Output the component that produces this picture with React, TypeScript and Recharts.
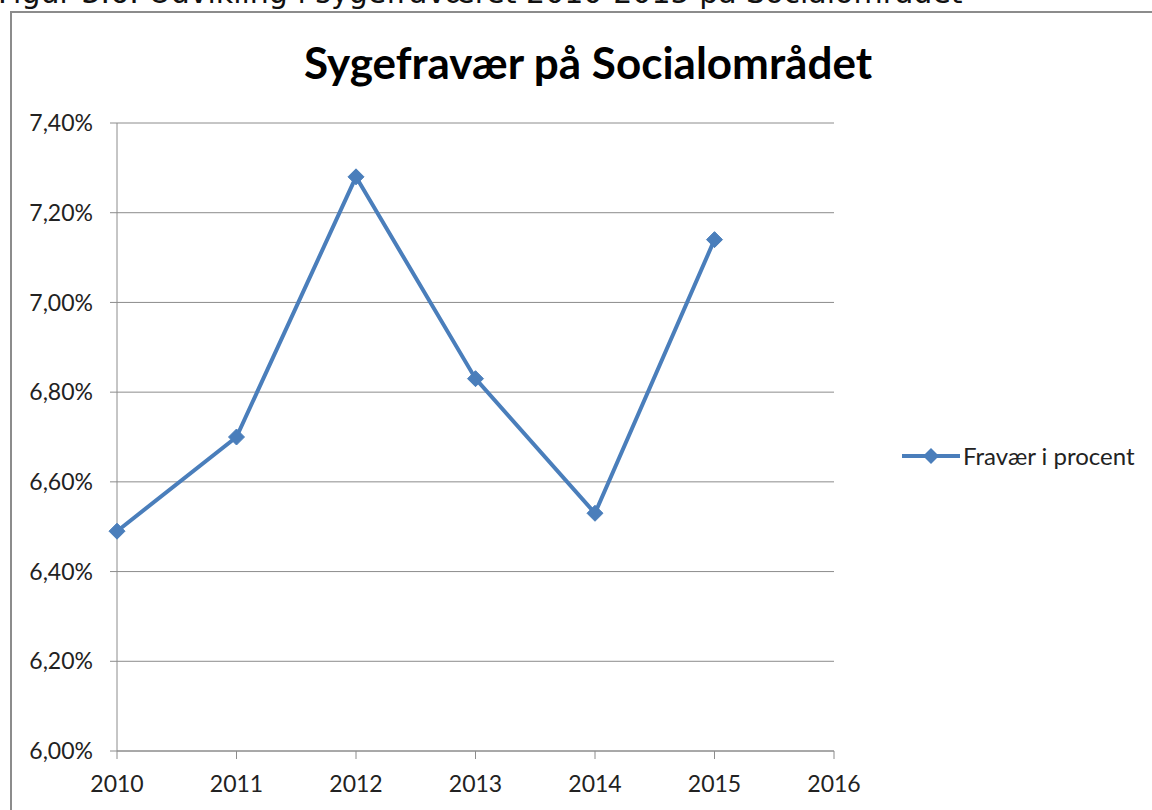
import { CartesianGrid, Line, LineChart, XAxis, YAxis } from "recharts";

const years = [2010, 2011, 2012, 2013, 2014, 2015];
const fravaer = [6.49, 6.7, 7.28, 6.83, 6.53, 7.14];
const yTicks = [6.0, 6.2, 6.4, 6.6, 6.8, 7.0, 7.2, 7.4];
const xTicks = [2010, 2011, 2012, 2013, 2014, 2015, 2016];
const seriesName = "Fravær i procent";

const data = years.map((year, i) => ({ year, value: fravaer[i] }));

const BLUE = "#4A7EBB";
const FONT = "Lato, 'Open Sans', sans-serif";

const Diamond = (props: any) => {
  const { cx, cy } = props;
  if (cx == null || cy == null) return null;
  const r = 8;
  return (
    <polygon
      points={`${cx},${cy - r} ${cx + r},${cy} ${cx},${cy + r} ${cx - r},${cy}`}
      fill={BLUE}
      stroke={BLUE}
      strokeWidth={1}
    />
  );
};

export default function App() {
  return (
    <div
      style={{
        position: "absolute",
        left: 0,
        top: 0,
        width: 1152,
        height: 810,
        overflow: "hidden",
        background: "#fff",
      }}
    >
      {/* caption above the chart box, cut off at the top as in the source */}
      <div
        style={{
          position: "absolute",
          left: -2,
          top: -25,
          fontFamily: "'DejaVu Sans', sans-serif",
          fontSize: 30,
          whiteSpace: "nowrap",
          color: "#111",
        }}
      >
        Figur 3.6: Udvikling i sygefraværet 2010-2015 på Socialområdet
      </div>
      <div
        style={{
          position: "absolute",
          left: 10,
          top: 11,
          width: 1160,
          height: 820,
          border: "2px solid #8c8c8c",
        }}
      />
      <div
        style={{
          position: "absolute",
          left: 0,
          top: 36,
          width: 1176,
          textAlign: "center",
          fontFamily: FONT,
          fontWeight: 700,
          fontSize: 44,
          color: "#000",
        }}
      >
        Sygefravær på Socialområdet
      </div>
      <div style={{ position: "absolute", left: 0, top: 0 }}>
        <LineChart
          width={1152}
          height={810}
          data={data}
          margin={{ top: 123, right: 318, bottom: 29, left: 0 }}
        >
          <CartesianGrid horizontal vertical={false} stroke="#8c8c8c" strokeWidth={1} />
          <XAxis
            dataKey="year"
            type="number"
            domain={[2010, 2016]}
            ticks={xTicks}
            interval={0}
            allowDecimals={false}
            stroke="#8c8c8c"
            height={30}
            tickSize={8}
            tickMargin={17}
            tick={{ fill: "#222", fontSize: 23, fontFamily: FONT }}
          />
          <YAxis
            width={117}
            domain={[6.0, 7.4]}
            ticks={yTicks}
            interval={0}
            stroke="#8c8c8c"
            tickSize={7}
            tickMargin={17}
            tickFormatter={(v: number) => v.toFixed(2).replace(".", ",") + "%"}
            tick={{ fill: "#222", fontSize: 23, fontFamily: FONT }}
          />
          <Line
            dataKey="value"
            name={seriesName}
            stroke={BLUE}
            strokeWidth={4}
            dot={<Diamond />}
            activeDot={false}
            isAnimationActive={false}
          />
        </LineChart>
      </div>
      <div
        style={{
          position: "absolute",
          left: 902,
          top: 441,
          display: "flex",
          alignItems: "center",
          fontFamily: FONT,
          fontSize: 24,
          color: "#222",
          whiteSpace: "nowrap",
        }}
      >
        <svg width={58} height={20}>
          <line x1={0} y1={10} x2={58} y2={10} stroke={BLUE} strokeWidth={4} />
          <polygon points="29,2 37,10 29,18 21,10" fill={BLUE} />
        </svg>
        <span style={{ marginLeft: 3 }}>{seriesName}</span>
      </div>
    </div>
  );
}
